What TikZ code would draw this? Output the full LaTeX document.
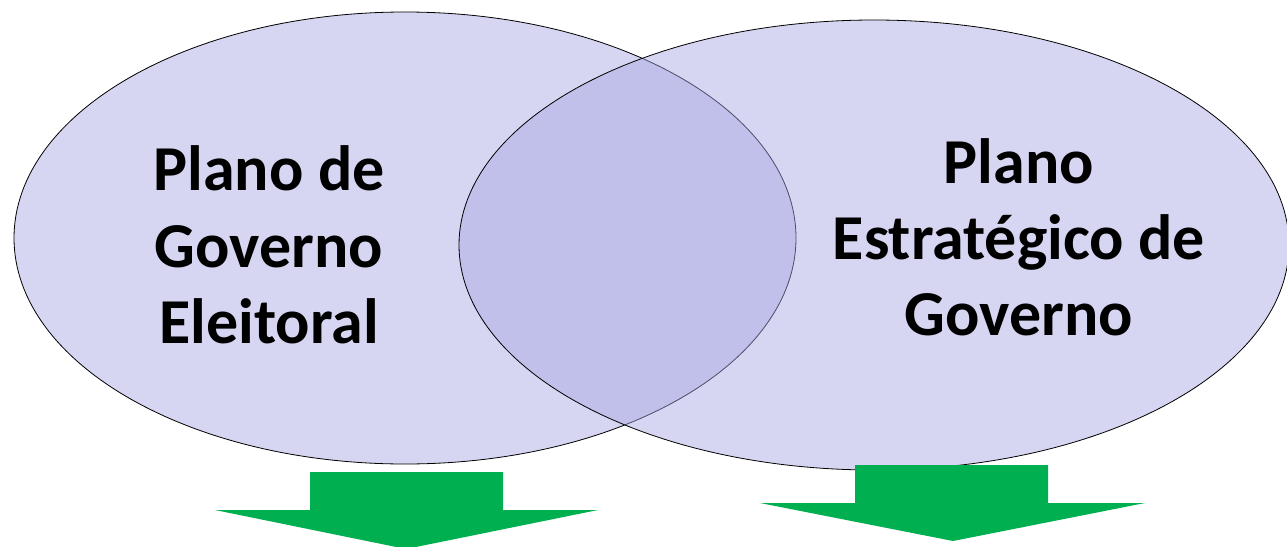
\documentclass[tikz,border=0pt]{standalone}
\usepackage{fontspec}
\setmainfont{Carlito}
\usetikzlibrary{shapes.geometric}
\definecolor{vennfill}{RGB}{166,166,227}
\definecolor{arrowgreen}{RGB}{0,176,80}
\tikzset{
  venn/.style={ellipse, draw=black, line width=0.8pt, fill=vennfill, fill opacity=0.46, draw opacity=1, inner sep=0pt, outer sep=0pt},
  lbl/.style={anchor=base, inner sep=0pt, font=\fontsize{64}{77}\selectfont\bfseries, text=black},
  greenarrow/.style={fill=arrowgreen, draw=none}
}
\begin{document}
\begin{tikzpicture}[x=1pt,y=-1pt]
\useasboundingbox (0,0) rectangle (1287,546);
\node[venn, minimum width=782pt, minimum height=452pt] (L) at (405,238) {};
\node[venn, minimum width=830pt, minimum height=450pt] (R) at (874,245) {};
\node[lbl] (l1) at (269,190) {Plano de};
\node[lbl] (l2) at (269,267) {Governo};
\node[lbl] (l3) at (269,343) {Eleitoral};
\node[lbl] (r1) at (1019,183) {Plano};
\node[lbl] (r2) at (1019,259) {Estratégico de};
\node[lbl] (r3) at (1019,335) {Governo};
\fill[greenarrow] (310,472) -- (503,472) -- (503,510) -- (598,510) -- (406,549) -- (215,510) -- (310,510) -- cycle;
\fill[greenarrow] (855,465) -- (1048,465) -- (1048,503) -- (1145,503) -- (953,541) -- (760,503) -- (855,503) -- cycle;
\end{tikzpicture}
\end{document}
